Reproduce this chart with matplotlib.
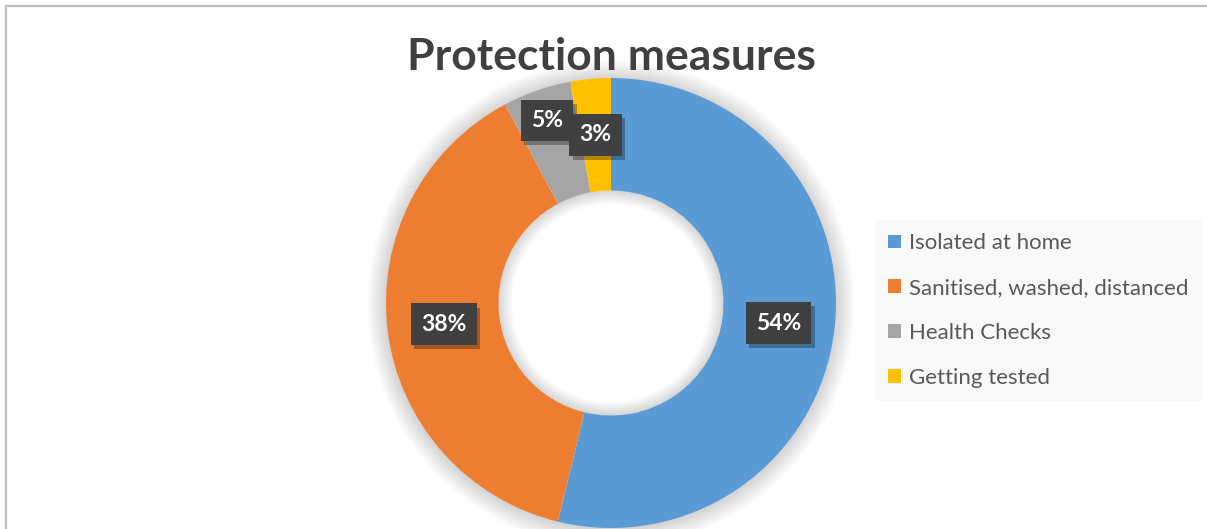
import matplotlib
matplotlib.use("Agg")
import matplotlib.pyplot as plt
from matplotlib.patches import Wedge, Patch
from matplotlib.lines import Line2D
import matplotlib.patheffects as pe
import numpy as np

plt.rcParams['font.family'] = ['Lato', 'DejaVu Sans']

# data
labels = ["Isolated at home", "Sanitised, washed, distanced", "Health Checks", "Getting tested"]
values = [53.8, 38.4, 4.9, 2.9]
colors = ["#5b9bd5", "#ed7d31", "#a5a5a5", "#ffc000"]
label_radius = [0.75, 0.75, 0.86, 0.75]   # 5% label is pushed outwards like in Excel

W, H = 1207, 529
fig = plt.figure(figsize=(W / 100, H / 100), dpi=100)
fig.patch.set_facecolor("white")

# chart frame (only top and left visible in the crop)
fig.add_artist(Line2D([5.5 / W, 1], [1 - 5.5 / H, 1 - 5.5 / H], color="#bfbfbf", lw=1.6))
fig.add_artist(Line2D([5.5 / W, 5.5 / W], [0, 1 - 5.5 / H], color="#bfbfbf", lw=1.6))

# donut axes: centre (611, 303) px, radius 225 px
cx, cy, R = 611, 303, 225
ax = fig.add_axes([(cx - R) / W, 1 - (cy + R) / H, 2 * R / W, 2 * R / H])
ax.axis("off")

wedges, _ = ax.pie(values, colors=colors, startangle=90, counterclock=False,
                   radius=1.0, wedgeprops=dict(width=0.5, linewidth=0))
for w in wedges:
    w.set_zorder(2)
ax.set_xlim(-1, 1)
ax.set_ylim(-1, 1)
ax.set_aspect("equal")

# soft outer shadow (rings only, hole stays clear)
for i in range(14):
    ax.add_patch(Wedge((0, -0.004), 1.0 + 0.006 * (i + 1), 0, 360, width=0.006 * (i + 1) + 0.01,
                       facecolor="#000000", alpha=0.012, lw=0, zorder=1, clip_on=False))

# inner hole shadow
for i in range(10):
    ax.add_patch(Wedge((0, 0), 0.5, 0, 360, width=0.006 * (i + 1), facecolor="#000000",
                       alpha=0.015, lw=0, zorder=3))

# data labels
total = sum(values)
start = 90.0
for v, rr in zip(values, label_radius):
    span = 360.0 * v / total
    mid = np.deg2rad(start - span / 2)
    start -= span
    x, y = rr * np.cos(mid), rr * np.sin(mid)
    t = ax.text(x, y, f"{v:.0f}%", fontsize=16.5, fontweight="bold", color="white",
                ha="center", va="center", zorder=5,
                bbox=dict(boxstyle="square,pad=0.45", facecolor="#404040", lw=0))
    t.get_bbox_patch().set_path_effects(
        [pe.SimplePatchShadow(offset=(2.5, -3), shadow_rgbFace="#000000", alpha=0.3), pe.Normal()])

# title
fig.text(cx / W, 1 - 57 / H, "Protection measures", ha="center", va="center",
         fontsize=32, fontweight="bold", color="#404040")

# legend
handles = [Patch(facecolor=c, edgecolor="none") for c in colors]
leg = fig.legend(handles, labels, loc="upper left", bbox_to_anchor=(875 / W, 1 - 220 / H),
                 frameon=True, fontsize=16, labelcolor="#595959",
                 handlelength=0.58, handleheight=0.58, handletextpad=0.35,
                 labelspacing=1.12, borderpad=0.6, borderaxespad=0, fancybox=False)
leg.get_frame().set_facecolor("#f8f8f8")
leg.get_frame().set_edgecolor("none")

fig.savefig("out.png", dpi=100, facecolor="white")
